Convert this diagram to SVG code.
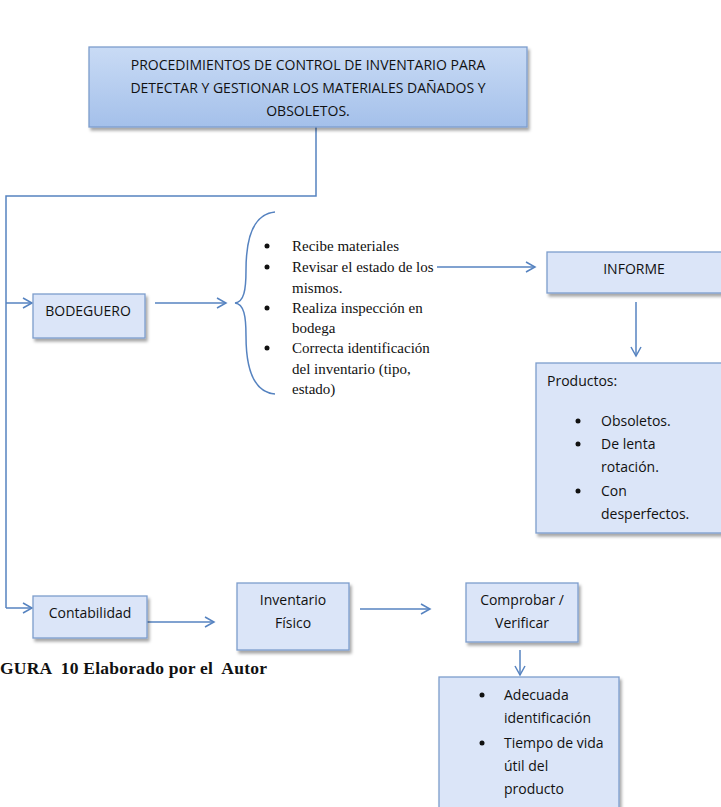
<svg xmlns="http://www.w3.org/2000/svg" width="721" height="807" viewBox="0 0 721 807">
<style>
.box{fill:#dbe5f8;stroke:#7d9dcc;stroke-width:1.3}
.t{font-family:"Open Sans","Liberation Sans",sans-serif;font-size:14px;fill:#111}
.s{font-family:"Liberation Serif",serif;font-size:15px;fill:#111}
.c{stroke:#5683c0;stroke-width:1.5;fill:none}
.b{fill:#111}
</style>
<defs>
<linearGradient id="g" x1="0" y1="0" x2="0" y2="1">
<stop offset="0" stop-color="#c9dbf5"/>
<stop offset="1" stop-color="#a4c0ea"/>
</linearGradient>
<filter id="sh" x="-10%" y="-10%" width="130%" height="140%">
<feDropShadow dx="2" dy="3" stdDeviation="1.5" flood-color="#000" flood-opacity="0.35"/>
</filter>
<marker id="a" markerWidth="12" markerHeight="12" refX="10" refY="6" orient="auto" markerUnits="userSpaceOnUse">
<path d="M1,1 L10,6 L1,11" fill="none" stroke="#5683c0" stroke-width="1.5"/>
</marker>
</defs>
<g id="connectors">
<path class="c" d="M316,127 V196 H6 V608"/>
<path class="c" d="M6,303 H32" marker-end="url(#a)"/>
<path class="c" d="M6,608 H32" marker-end="url(#a)"/>
<path class="c" d="M155,303 H226" marker-end="url(#a)"/>
<path class="c" d="M275,212 C252,214 246,240 246,270 C246,290 244,302 235,303 C244,304 246,316 246,336 C246,366 252,392 275,394"/>
<path class="c" d="M437,267 H535" marker-end="url(#a)"/>
<path class="c" d="M636,302 V356" marker-end="url(#a)"/>
<path class="c" d="M147,622 H214" marker-end="url(#a)"/>
<path class="c" d="M360,609 H430" marker-end="url(#a)"/>
<path class="c" d="M520,650 V675" marker-end="url(#a)"/>
</g>
<g id="title">
<rect x="89" y="47" width="438" height="80" fill="url(#g)" stroke="#7d9dcc" stroke-width="1.3" filter="url(#sh)"/>
<text class="t" x="308" y="70" text-anchor="middle">PROCEDIMIENTOS DE CONTROL DE INVENTARIO PARA</text>
<text class="t" x="308" y="93" text-anchor="middle">DETECTAR Y GESTIONAR LOS MATERIALES DAÑADOS Y</text>
<text class="t" x="308" y="116" text-anchor="middle">OBSOLETOS.</text>
</g>
<g id="bodeguero">
<rect class="box" x="33" y="294" width="112" height="44" filter="url(#sh)"/>
<text class="t" x="88" y="316" text-anchor="middle">BODEGUERO</text>
</g>
<g id="tareas">
<circle class="b" cx="267" cy="246" r="2.5"/><text class="s" x="292" y="251">Recibe materiales</text>
<circle class="b" cx="267" cy="267" r="2.5"/><text class="s" x="292" y="272">Revisar el estado de los</text>
<text class="s" x="292" y="293">mismos.</text>
<circle class="b" cx="267" cy="308" r="2.5"/><text class="s" x="292" y="313">Realiza inspección en</text>
<text class="s" x="292" y="333">bodega</text>
<circle class="b" cx="267" cy="348" r="2.5"/><text class="s" x="292" y="353">Correcta identificación</text>
<text class="s" x="292" y="374">del inventario (tipo,</text>
<text class="s" x="292" y="394">estado)</text>
</g>
<g id="informe">
<rect class="box" x="547" y="252" width="176" height="41" filter="url(#sh)"/>
<text class="t" x="634" y="274" text-anchor="middle">INFORME</text>
</g>
<g id="productos">
<rect class="box" x="536" y="363" width="187" height="170" filter="url(#sh)"/>
<text class="t" x="547" y="386">Productos:</text>
<circle class="b" cx="578" cy="421" r="2.5"/><text class="t" x="601" y="426">Obsoletos.</text>
<circle class="b" cx="578" cy="444" r="2.5"/><text class="t" x="601" y="449">De lenta</text>
<text class="t" x="601" y="472">rotación.</text>
<circle class="b" cx="578" cy="491" r="2.5"/><text class="t" x="601" y="496">Con</text>
<text class="t" x="601" y="519">desperfectos.</text>
</g>
<g id="contabilidad">
<rect class="box" x="33" y="596" width="114" height="42" filter="url(#sh)"/>
<text class="t" x="90" y="618" text-anchor="middle">Contabilidad</text>
</g>
<g id="inventario">
<rect class="box" x="237" y="583" width="112" height="67" filter="url(#sh)"/>
<text class="t" x="293" y="605" text-anchor="middle">Inventario</text>
<text class="t" x="293" y="628" text-anchor="middle">Físico</text>
</g>
<g id="comprobar">
<rect class="box" x="466" y="583" width="112" height="59" filter="url(#sh)"/>
<text class="t" x="522" y="605" text-anchor="middle">Comprobar /</text>
<text class="t" x="522" y="628" text-anchor="middle">Verificar</text>
</g>
<g id="verificacion">
<rect class="box" x="439" y="677" width="180" height="140" filter="url(#sh)"/>
<circle class="b" cx="482" cy="695" r="2.5"/><text class="t" x="504" y="700">Adecuada</text>
<text class="t" x="504" y="723">identificación</text>
<circle class="b" cx="482" cy="743" r="2.5"/><text class="t" x="504" y="748">Tiempo de vida</text>
<text class="t" x="504" y="771">útil del</text>
<text class="t" x="504" y="794">producto</text>
</g>
<text x="0" y="674" xml:space="preserve" textLength="267" lengthAdjust="spacing" font-family="Liberation Serif,serif" font-weight="bold" font-size="17.5" fill="#111">GURA  10 Elaborado por el  Autor</text>
</svg>
